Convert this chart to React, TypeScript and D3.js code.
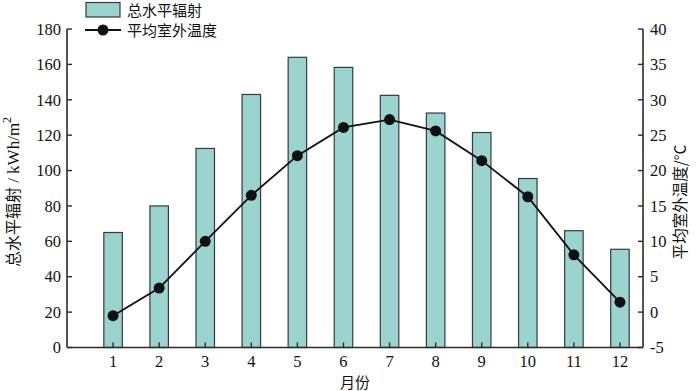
import React from "react";
import * as d3 from "d3";

const months = [1, 2, 3, 4, 5, 6, 7, 8, 9, 10, 11, 12];
const radiation = [65, 80, 112.5, 143, 164, 158.3, 142.5, 132.5, 121.5, 95.5, 66, 55.5];
const temperature = [-0.5, 3.4, 10, 16.5, 22.1, 26.1, 27.2, 25.6, 21.4, 16.3, 8.1, 1.4];
const leftTicks = [0, 20, 40, 60, 80, 100, 120, 140, 160, 180];
const rightTicks = [-5, 0, 5, 10, 15, 20, 25, 30, 35, 40];
const legendLabels = ["总水平辐射", "平均室外温度"];

const W = 700, H = 391;
const left = 67, right = 643, top = 29, bottom = 347.5;
const serif = "'Liberation Serif', 'Times New Roman', 'DejaVu Serif', serif";
const cjk = "'Noto Sans CJK SC', 'Noto Sans', sans-serif";
const axisColor = "#2b2b2b";
const barFill = "#9bd3cf";

const serifStyle = { fontFamily: serif } as React.CSSProperties;
const cjkStyle = { fontFamily: cjk } as React.CSSProperties;

export default function App() {
  const x = d3.scaleLinear().domain([0, 12.5]).range([left, right]);
  const yL = d3.scaleLinear().domain([0, 180]).range([bottom, top]);
  const yR = d3.scaleLinear().domain([-5, 40]).range([bottom, top]);
  const barW = 18.5;
  const line = d3
    .line<number>()
    .x((_, i) => x(months[i]))
    .y((d) => yR(d));

  return (
    <svg width={W} height={H} style={{ position: "absolute", left: 0, top: 0, background: "#fff" }}>
      {radiation.map((v, i) => (
        <rect
          key={i}
          x={x(months[i]) - barW / 2}
          y={yL(v)}
          width={barW}
          height={yL(0) - yL(v)}
          fill={barFill}
          stroke="#3a3a3a"
          strokeWidth={1.2}
        />
      ))}
      <line x1={left} x2={left} y1={top} y2={bottom} stroke={axisColor} strokeWidth={1.6} />
      <line x1={right} x2={right} y1={top} y2={bottom} stroke={axisColor} strokeWidth={1.6} />
      <line x1={left} x2={right} y1={bottom} y2={bottom} stroke={axisColor} strokeWidth={1.6} />
      {leftTicks.map((t) => (
        <g key={"l" + t}>
          <line x1={left} x2={left + 5} y1={yL(t)} y2={yL(t)} stroke={axisColor} strokeWidth={1.4} />
          <text x={left - 6} y={yL(t)} dy="0.35em" textAnchor="end" style={serifStyle} fontSize={16.5} fill="#111">
            {t}
          </text>
        </g>
      ))}
      {rightTicks.map((t) => (
        <g key={"r" + t}>
          <line x1={right - 5} x2={right} y1={yR(t)} y2={yR(t)} stroke={axisColor} strokeWidth={1.4} />
          <text x={right + 7} y={yR(t)} dy="0.35em" textAnchor="start" style={serifStyle} fontSize={16.5} fill="#111">
            {t}
          </text>
        </g>
      ))}
      {months.map((m) => (
        <g key={"m" + m}>
          <line x1={x(m)} x2={x(m)} y1={bottom} y2={bottom - 5} stroke={axisColor} strokeWidth={1.4} />
          <text x={x(m)} y={367} textAnchor="middle" style={serifStyle} fontSize={16.5} fill="#111">
            {m}
          </text>
        </g>
      ))}
      <path d={line(temperature) || ""} fill="none" stroke="#111" strokeWidth={1.8} />
      {temperature.map((v, i) => (
        <circle key={"c" + i} cx={x(months[i])} cy={yR(v)} r={5.5} fill="#111" />
      ))}
      <text x={355} y={388} textAnchor="middle" style={cjkStyle} fontSize={15} fill="#111">
        月份
      </text>
      <text transform={`translate(19, 192) rotate(-90)`} textAnchor="middle" fill="#111">
        <tspan style={cjkStyle} fontSize={16}>总水平辐射</tspan>
        <tspan style={serifStyle} fontSize={17}> / kWh/m</tspan>
        <tspan style={serifStyle} fontSize={12} dy={-8}>2</tspan>
      </text>
      <text
        transform={`translate(681, 202) rotate(-90)`}
        textAnchor="middle"
        style={cjkStyle}
        fontSize={15.5}
        fill="#111"
        dy="0.35em"
      >
        平均室外温度/°C
      </text>
      <rect x={86} y={2.5} width={34} height={14.5} fill={barFill} stroke="#3a3a3a" strokeWidth={1.2} />
      <text x={127} y={15.5} style={cjkStyle} fontSize={15} fill="#111">
        {legendLabels[0]}
      </text>
      <line x1={85} x2={121} y1={30} y2={30} stroke="#111" strokeWidth={1.8} />
      <circle cx={103} cy={30} r={5.5} fill="#111" />
      <text x={127} y={35.5} style={cjkStyle} fontSize={15} fill="#111">
        {legendLabels[1]}
      </text>
    </svg>
  );
}
